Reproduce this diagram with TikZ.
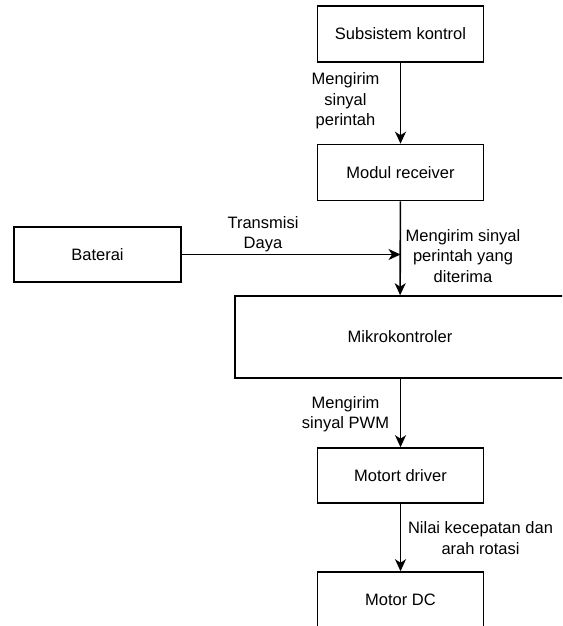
\documentclass[tikz,border=0pt]{standalone}
\usepackage{fontspec}
\setmainfont{Liberation Sans}
\usetikzlibrary{arrows.meta}
\begin{document}
\begin{tikzpicture}[x=1pt,y=-1pt,
  every node/.style={font=\fontsize{16.5}{20.5}\selectfont},
  block/.style={draw,line width=1.6pt,minimum width=166pt,minimum height=56pt,inner sep=0pt},
  lbl/.style={align=center,inner sep=0pt},
  flow/.style={line width=1.6pt,-{Stealth[length=12pt,width=11pt,inset=3.5pt]}}]
\useasboundingbox (0,0) rectangle (562,626);
\begin{scope}
\clip (0,0) rectangle (562,626);
\node[block] (sub) at (400.5,34) {Subsistem kontrol};
\node[block] (rec) at (400.5,172.5) {Modul receiver};
\node[block,minimum width=167pt,minimum height=55pt] (bat) at (97.5,254.5) {Baterai};
\node[block,minimum width=330pt,minimum height=82pt] (mik) at (400,337) {Mikrokontroler};
\node[block,minimum height=55pt] (drv) at (400.5,475.5) {Motort driver};
\node[block] (dc) at (400.5,600) {Motor DC};
\coordinate (join) at (rec.south |- bat.east);

\draw[flow] (sub) -- (rec);
\draw[flow] (rec) -- (mik);
\draw[flow] (bat.east) -- (join);
\draw[flow] (mik.south -| drv.north) -- (drv);
\draw[flow] (drv) -- (dc);
\end{scope}

\node[lbl] (l1) at (345.5,101) {Mengirim\\sinyal\\perintah};
\node[lbl] (l2) at (263,234) {Transmisi\\Daya};
\node[lbl] (l3) at (463,256) {Mengirim sinyal\\perintah yang\\diterima};
\node[lbl] (l4) at (345.5,414) {Mengirim\\sinyal PWM};
\node[lbl] (l5) at (480.5,538) {Nilai kecepatan dan\\arah rotasi};
\end{tikzpicture}
\end{document}
